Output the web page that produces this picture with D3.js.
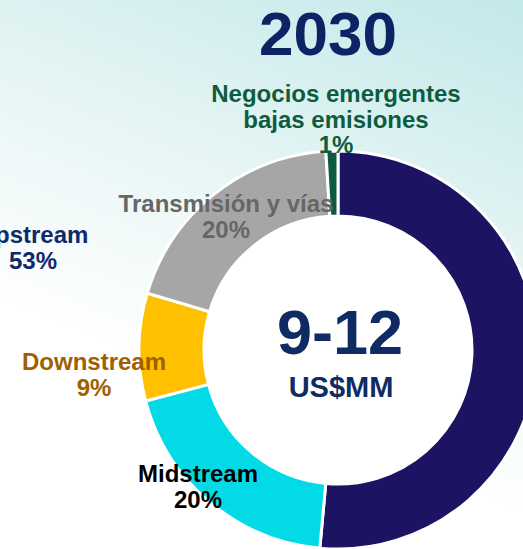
<!DOCTYPE html>
<html>
<head>
<meta charset="utf-8">
<script src="https://cdn.jsdelivr.net/npm/d3@7"></script>
<style>
  html, body { margin: 0; padding: 0; }
  body { width: 523px; height: 549px; overflow: hidden; }
  text { font-family: "Liberation Sans", Arial, sans-serif; font-weight: bold; }
</style>
</head>
<body>
<svg id="chart" width="523" height="549"></svg>
<script>
// Investment split for 2030, clockwise from 12 o'clock
const categories = ["Upstream", "Midstream", "Downstream", "Transmisión y vías", "Negocios emergentes bajas emisiones"];
const shares = [53, 20, 9, 20, 1];
const labelLines = [
  ["Upstream"],
  ["Midstream"],
  ["Downstream"],
  ["Transmisión y vías"],
  ["Negocios emergentes", "bajas emisiones"]
];
const title = "2030";
const centerValue = "9-12";
const centerUnit = "US$MM";

const sliceColors = ["#1d1363", "#02dbe5", "#ffc000", "#a6a6a6", "#0d5c40"];
const labelColors = ["#0f2a6a", "#000000", "#a05f00", "#666666", "#0d5c40"];
// label anchor (x, baseline of first line) for each category
const labelAnchor = [[33, 243], [198, 482], [94, 370], [226, 212], [336, 102]];

const W = 523, H = 549;
const svg = d3.select("#chart");

// background wash: pale teal at the top right fading to white
const defs = svg.append("defs");
const grad = defs.append("linearGradient")
  .attr("id", "bg").attr("gradientUnits", "userSpaceOnUse")
  .attr("x1", 523).attr("y1", 0).attr("x2", 300).attr("y2", 549);
grad.append("stop").attr("offset", 0).attr("stop-color", "#c3e8ea");
grad.append("stop").attr("offset", 0.4).attr("stop-color", "#e3f4f3");
grad.append("stop").attr("offset", 0.8).attr("stop-color", "#ffffff");
svg.append("rect").attr("width", W).attr("height", H).attr("fill", "url(#bg)");

const cx = 338, cy = 350, outerR = 199, innerR = 134;

const pie = d3.pie().sort(null).value(d => d.v);
const arcs = pie(categories.map((c, i) => ({ c, v: shares[i], i })));
const arc = d3.arc().innerRadius(innerR).outerRadius(outerR);

const g = svg.append("g").attr("transform", `translate(${cx},${cy})`);
g.append("circle").attr("r", innerR).attr("fill", "#ffffff");
g.selectAll("path.slice")
  .data(arcs)
  .join("path")
  .attr("class", "slice")
  .attr("d", arc)
  .attr("fill", d => sliceColors[d.data.i])
  .attr("stroke", "#ffffff")
  .attr("stroke-width", 3)
  .attr("stroke-linejoin", "miter");

// title
svg.append("text")
  .attr("x", 328).attr("y", 55)
  .attr("text-anchor", "middle")
  .attr("font-size", 62)
  .attr("fill", "#0c2364")
  .text(title);

// centre total
svg.append("text")
  .attr("x", cx + 2).attr("y", 354)
  .attr("text-anchor", "middle")
  .attr("font-size", 63)
  .attr("fill", "#0e2b63")
  .text(centerValue);
svg.append("text")
  .attr("x", cx + 3).attr("y", 397)
  .attr("text-anchor", "middle")
  .attr("font-size", 29)
  .attr("fill", "#0e2b63")
  .text(centerUnit);

// category labels with their share
const lineH = 25.5;
arcs.forEach(d => {
  const i = d.data.i;
  const [lx, ly] = labelAnchor[i];
  const lines = labelLines[i].concat([shares[i] + "%"]);
  const t = svg.append("text")
    .attr("text-anchor", "middle")
    .attr("font-size", 24)
    .attr("fill", labelColors[i]);
  lines.forEach((s, k) => {
    t.append("tspan").attr("x", lx).attr("y", ly + k * lineH).text(s);
  });
});
</script>
</body>
</html>
